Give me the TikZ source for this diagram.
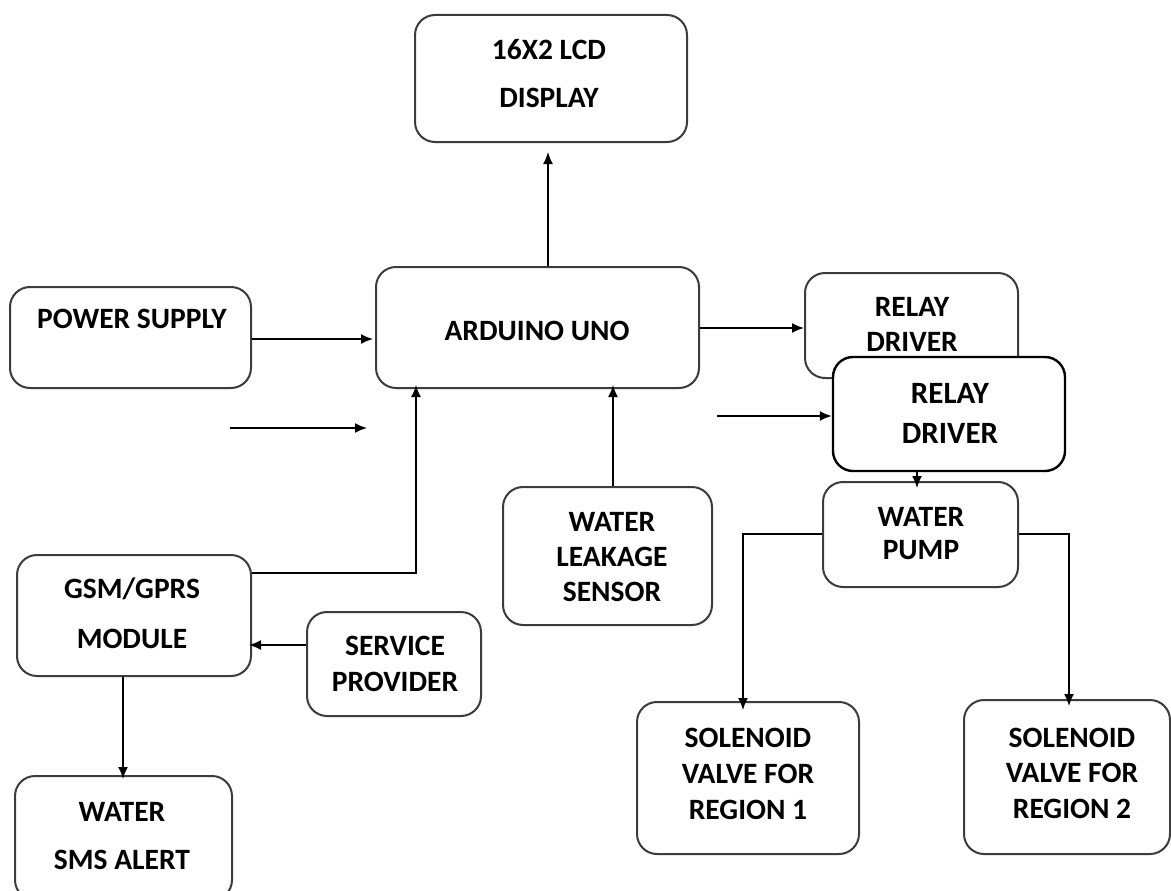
\documentclass[tikz,border=0pt]{standalone}
\usepackage{fontspec}
\setmainfont{Carlito}
\usetikzlibrary{arrows.meta}
\definecolor{boxline}{HTML}{3C3C3C}
\tikzset{
  box/.style={draw=boxline, line width=2pt, rounded corners=20pt, fill=white, inner sep=0pt},
  boxdark/.style={draw=black, line width=2.4pt, rounded corners=20pt, fill=white, inner sep=0pt},
  txt/.style={font=\fontsize{29.5}{#1}\selectfont\bfseries, align=center, inner sep=0pt},
  bigtxt/.style={font=\fontsize{31}{#1}\selectfont\bfseries, align=center, inner sep=0pt},
  arr/.style={line width=1.6pt, -{Latex[length=12pt,width=10pt]}},
  wire/.style={line width=1.6pt}
}
\begin{document}
\begin{tikzpicture}[x=1pt,y=-1pt]
\clip (0,0) rectangle (1171,891);
\fill[white] (0,0) rectangle (1171,891);

% boxes
\node[box, minimum width=272pt, minimum height=127pt] (lcd) at (551,78.5) {};
\node[box, minimum width=323pt, minimum height=121pt] (ard) at (537.5,327.5) {};
\node[box, minimum width=241pt, minimum height=101pt] (pow) at (130.5,337.5) {};
\node[box, minimum width=213pt, minimum height=105pt] (rel1) at (911.5,325.5) {};
\node[box, minimum width=195pt, minimum height=105pt] (pump) at (920.5,534.5) {};
\node[box, minimum width=209pt, minimum height=138pt] (sens) at (607.5,556) {};
\node[box, minimum width=234pt, minimum height=121pt] (gsm) at (134,615.5) {};
\node[box, minimum width=174pt, minimum height=104pt] (serv) at (394,664) {};
\node[box, minimum width=217pt, minimum height=124pt] (sms) at (123.5,838) {};
\node[box, minimum width=222pt, minimum height=152pt] (sol1) at (748,778) {};
\node[box, minimum width=206pt, minimum height=154pt] (sol2) at (1067,777) {};

% texts
\node[txt=48pt] (tlcd) at (549,74) {16X2 LCD\\DISPLAY};
\node[txt=30pt] (tard) at (537,331) {ARDUINO UNO};
\node[txt=30pt] (tpow) at (132,319) {POWER SUPPLY};
\node[txt=35pt] (trel1) at (912,324.5) {RELAY\\DRIVER};
\node[txt=33pt] (tpump) at (921,533.5) {WATER\\PUMP};
\node[txt=35pt] (tsens) at (612,557) {WATER\\LEAKAGE\\SENSOR};
\node[txt=50pt] (tgsm) at (132,613) {GSM/GPRS\\MODULE};
\node[txt=36pt] (tserv) at (395,664) {SERVICE\\PROVIDER};
\node[txt=48pt] (tsms) at (122,836) {WATER\\SMS ALERT};
\node[txt=36pt] (tsol1) at (748,774) {SOLENOID\\VALVE FOR\\REGION 1};
\node[txt=35.5pt] (tsol2) at (1072,773) {SOLENOID\\VALVE FOR\\REGION 2};

% connectors
\draw[arr] (ard.north -| 548,0) -- (548,152) coordinate (lcdin);
\draw[arr] (pow.east |- 0,339) -- ([xshift=-2pt]ard.west |- 0,339);
\draw[arr] (ard.east |- 0,328) -- (rel1.west |- 0,328);
\draw[arr] (gsm.east |- 0,573) -| ([yshift=4pt]ard.south -| 416,0);
\draw[arr] (sens.north -| 613,0) -- ([yshift=4pt]ard.south -| 613,0);
\draw[arr] (serv.west |- 0,645) -- ([xshift=-3pt]gsm.east |- 0,645);
\draw[arr] (gsm.south -| 123,0) -- ([yshift=-4pt]sms.north -| 123,0);
\draw[arr] (pump.west |- 0,534) -| ([yshift=-9pt]sol1.north -| 743,0);
\draw[arr] (pump.east |- 0,534) -| ([yshift=-7pt]sol2.north -| 1069,0);
\draw[arr] (rel1.south -| 917,0) -- ([yshift=-7pt]pump.north -| 917,0);

% overlapping relay driver
\node[boxdark, minimum width=232pt, minimum height=114pt] (rel2) at (949,414) {};
\node[bigtxt=40pt] (trel2) at (950,413) {RELAY\\DRIVER};

% free arrows
\coordinate (fa1) at (230,428);
\coordinate (fa1e) at (367,428);
\draw[arr] (fa1) -- (fa1e);
\coordinate (fa2) at (717,416);
\draw[arr] (fa2) -- (rel2.west |- fa2);
\end{tikzpicture}
\end{document}
